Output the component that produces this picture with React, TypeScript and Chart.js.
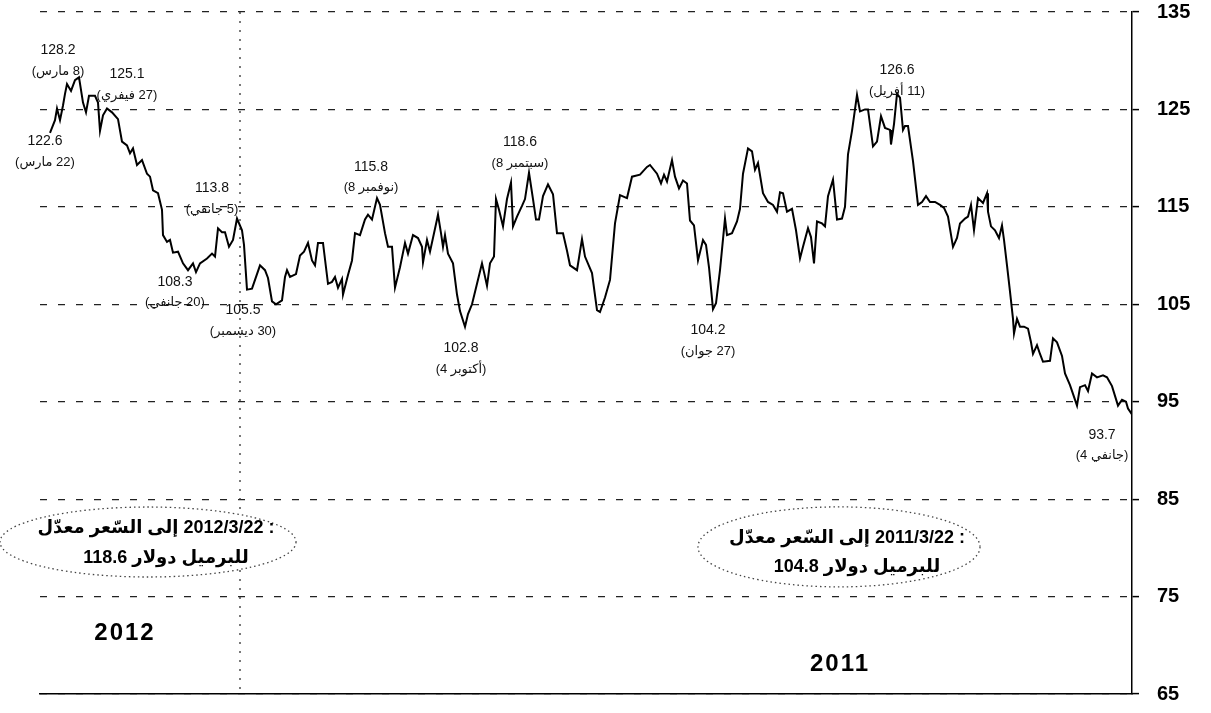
import React, { useEffect, useRef } from 'react';
import { Chart, registerables } from 'chart.js';

Chart.register(...registerables);

// Days counted back from 22/3/2012 (left edge) towards 4/1/2011 (right edge)
const dayIndex = [
  0, 2, 2.8, 4, 5.2, 6, 6.8, 8.4, 10, 11.6,
  13.2, 14.4, 15.6, 18, 19.2, 20, 21.2, 22.8, 24.8, 27.2,
  28.8, 30.8, 32, 33.2, 34.8, 36.8, 38.8, 40, 41.2, 43.2,
  44.8, 45.2, 46.8, 48, 49.2, 51.2, 53.2, 55.2, 57.2, 58.4,
  60, 62.8, 64.8, 66, 67.2, 68.8, 70, 71.6, 73.2, 74.8,
  76.8, 77.6, 78.8, 80.8, 84, 86, 87.2, 88.8, 90.4, 92.8,
  94, 94.8, 96, 98.4, 100, 101.6, 103.2, 104.8, 106, 107.2,
  109.2, 111.2, 112.8, 114, 115.2, 116.8, 117.2, 119.2, 120.8, 122,
  124, 126, 127.2, 128.8, 130.8, 132, 134, 135.2, 136.8, 138,
  140, 142, 143.2, 145.2, 147.2, 148.8, 149.2, 150.8, 152, 154.8,
  155.2, 156.4, 157.2, 158, 159.2, 161.2, 162.8, 164, 166, 167.2,
  168.8, 170.8, 172.8, 173.6, 174.8, 176, 177.6, 178.4, 179.6, 181.2,
  182.8, 184.4, 185.2, 186.8, 188.8, 190, 191.6, 193.2, 194.4, 195.6,
  197.2, 199.2, 201.2, 202.8, 205.2, 206.8, 208, 210.8, 212.8, 214,
  216.8, 218.8, 220, 222, 224, 226, 228, 230.8, 232.8, 236,
  238.8, 240, 242.8, 244.4, 245.6, 246.8, 248.8, 250, 251.6, 253.2,
  254.8, 256, 257.6, 259.2, 261.2, 262.4, 263.6, 265.2, 266.4, 268,
  270, 270.8, 272.8, 274.8, 276, 277.2, 279.2, 280.8, 282, 283.2,
  285.2, 287.2, 289.2, 290.8, 292, 293.2, 294.8, 296.8, 298.4, 300,
  301.2, 303.2, 304.4, 305.6, 306.8, 308.8, 310, 311.2, 313.2, 314.8,
  316.8, 318, 319.2, 320.8, 322.8, 324, 326, 327.2, 329.2, 330.8,
  332.4, 334, 336, 336.4, 337.6, 338.8, 340, 341.2, 342, 343.2,
  345.2, 347.2, 348.8, 350.4, 352, 354, 356, 357.6, 359.2, 361.2,
  362.8, 364, 366, 367.2, 368.4, 369.6, 371.2, 373.2, 374.8, 375.2,
  376.4, 378, 379.6, 380.8, 381.6, 382.8, 384, 385.2, 385.6, 386.8,
  388, 389.6, 391.2, 392.4, 393.2, 394.8, 396, 397.2, 400, 401.2,
  402.8, 404.8, 406, 408, 409.2, 410.8, 412, 414, 415.2, 416.8,
  418.8, 421.2, 422.8, 424.8, 427.2, 428.8, 430.4, 431.2, 432.8,
];

// Price (dollars per barrel)
const price = [
  122.6, 123.9, 125.1, 123.9, 125.4, 126.6, 127.6, 126.9, 128.0, 128.3,
  125.7, 124.7, 126.4, 126.4, 125.7, 122.8, 124.4, 125.1, 124.7, 124.0,
  121.7, 121.3, 120.5, 121.0, 119.3, 119.8, 118.4, 118.1, 116.7, 116.4,
  114.7, 112.1, 111.4, 111.6, 110.3, 110.4, 109.2, 108.5, 109.2, 108.3,
  109.2, 109.7, 110.2, 109.9, 112.8, 112.4, 112.4, 110.9, 111.6, 113.8,
  112.6, 111.1, 106.5, 106.6, 109.0, 108.5, 107.7, 105.3, 105.0, 105.4,
  107.8, 108.5, 107.8, 108.1, 110.0, 110.4, 111.3, 109.5, 109.0, 111.3,
  111.3, 107.1, 107.3, 107.8, 106.7, 107.6, 106.0, 108.0, 109.5, 112.3,
  112.1, 113.7, 114.2, 113.7, 115.9, 115.2, 112.3, 110.9, 110.9, 106.7,
  108.8, 111.3, 110.2, 112.1, 111.8, 110.9, 109.3, 111.6, 110.4, 113.7,
  114.2, 112.3, 110.9, 112.1, 110.2, 109.2, 106.0, 104.3, 102.7, 104.0,
  105.0, 107.1, 109.2, 108.3, 106.9, 109.2, 109.9, 115.8, 114.7, 113.0,
  115.8, 117.5, 113.0, 114.0, 115.1, 115.8, 118.5, 115.8, 113.7, 113.7,
  116.1, 117.3, 116.3, 112.3, 112.3, 110.5, 109.0, 108.5, 111.7, 109.9,
  108.2, 104.4, 104.2, 105.7, 107.5, 113.3, 116.2, 115.9, 118.1, 118.3,
  119.1, 119.3, 118.4, 117.4, 118.3, 117.6, 119.8, 118.1, 116.9, 117.7,
  117.4, 113.6, 113.1, 109.5, 111.6, 111.1, 108.8, 104.5, 105.1, 108.5,
  113.8, 112.1, 112.3, 113.5, 114.8, 118.4, 121.0, 120.7, 118.8, 119.5,
  116.4, 115.5, 115.2, 114.5, 116.5, 116.4, 114.5, 114.8, 112.6, 109.7,
  110.9, 112.8, 111.9, 109.2, 113.5, 113.3, 113.0, 116.1, 117.8, 113.7,
  113.8, 115.0, 120.4, 122.8, 126.5, 124.8, 125.0, 125.0, 121.2, 121.7,
  124.3, 123.1, 122.9, 121.4, 123.5, 126.6, 126.2, 122.9, 123.3, 123.3,
  119.7, 115.2, 115.5, 116.1, 115.5, 115.5, 115.2, 114.9, 114.0, 110.9,
  111.8, 113.3, 113.8, 114.0, 115.2, 112.6, 115.9, 115.4, 116.4, 114.5,
  113.0, 112.6, 111.8, 113.1, 111.6, 109.0, 106.3, 103.5, 102.0, 103.5,
  102.7, 102.7, 102.5, 101.1, 99.9, 100.8, 99.9, 99.1, 99.2, 101.5,
  101.1, 99.7, 97.9, 96.7, 95.8, 94.6, 96.5, 96.7, 96.1, 97.9,
  97.5, 97.7, 97.5, 96.6, 94.6, 95.2, 95.0, 94.3, 93.7,
];

const yMin = 65;
const yMax = 135;
const yStep = 10;
const xMin = -4;
const xMax = 432.8;
const yearBoundaryDay = 76;

// Point labels (value + date)
const labelNumbers = ['128.2', '125.1', '122.6', '113.8', '108.3', '105.5', '115.8', '118.6', '102.8', '104.2', '126.6', '93.7'];
const labelDates = ['(8 مارس)', '(27 فيفري)', '(22 مارس)', '(5 جانفي)', '(20 جانفي)', '(30 ديسمبر)', '(8 نوفمبر)', '(8 سبتمبر)', '(4 أكتوبر)', '(27 جوان)', '(11 أفريل)', '(4 جانفي)'];
const labelDirections = ['rtl', 'rtl', 'rtl', 'rtl', 'rtl', 'rtl', 'ltr', 'ltr', 'ltr', 'rtl', 'rtl', 'ltr'];
const labelDays = [3.2, 30.8, -2, 64.8, 50, 77.2, 128.4, 188, 164.4, 263.2, 338.8, 420.8];
const labelValues = [131.1, 128.6, 121.7, 116.9, 107.3, 104.4, 119.1, 121.6, 100.5, 102.3, 129.0, 91.6];

// Year captions
const yearLabels = ['2012', '2011'];
const yearDays = [30, 316];
const yearValues = [71.2, 68.0];

// Average-price boxes
const boxLine1 = ['معدّل السّعر إلى 2012/3/22 :', 'معدّل السّعر إلى 2011/3/22 :'];
const boxLine2 = ['118.6 دولار للبرميل', '104.8 دولار للبرميل'];
const boxDays = [39.2, 315.6];
const boxValues = [80.6, 80.1];

const FONT = "'Liberation Sans', Arial, 'DejaVu Sans', sans-serif";

// words laid out left-to-right in the same order as in the source picture
const lrmJoin = (s: string) => s.split(' ').join('\u200E \u200E');

const overlayPlugin = {
  id: 'overlay',
  beforeDatasetsDraw(chart: any) {
    const { ctx, chartArea, scales } = chart;
    const x = scales.x;
    const y = scales.y;
    ctx.save();
    // dotted divider between years
    const xd = x.getPixelForValue(yearBoundaryDay);
    ctx.strokeStyle = '#333';
    ctx.lineWidth = 1.3;
    ctx.setLineDash([2, 7]);
    ctx.beginPath();
    ctx.moveTo(xd, chartArea.top);
    ctx.lineTo(xd, chartArea.bottom);
    ctx.stroke();

    // dotted ellipses
    const radii = [[148, 35], [141, 40]];
    ctx.setLineDash([1.5, 3]);
    ctx.lineWidth = 1.3;
    ctx.strokeStyle = '#444';
    for (let i = 0; i < boxDays.length; i++) {
      const cx = x.getPixelForValue(boxDays[i]);
      const cy = y.getPixelForValue(boxValues[i]);
      ctx.fillStyle = '#fff';
      ctx.beginPath();
      ctx.ellipse(cx, cy, radii[i][0], radii[i][1], 0, 0, Math.PI * 2);
      ctx.fill();
      ctx.stroke();
    }
    ctx.restore();
  },
  afterDatasetsDraw(chart: any) {
    const { ctx, scales } = chart;
    const x = scales.x;
    const y = scales.y;
    ctx.save();
    ctx.fillStyle = '#111';
    ctx.textAlign = 'center';
    ctx.textBaseline = 'middle';
    // point labels
    for (let i = 0; i < labelNumbers.length; i++) {
      const px = x.getPixelForValue(labelDays[i]);
      const py = y.getPixelForValue(labelValues[i]);
      ctx.direction = 'ltr';
      ctx.font = `14px ${FONT}`;
      ctx.fillText(labelNumbers[i], px, py);
      ctx.direction = labelDirections[i];
      ctx.font = `13px ${FONT}`;
      ctx.fillText(labelDates[i], px, py + 21);
    }
    // boxes text
    const lineOffsets = [[-14, 16], [-9, 20]];
    ctx.direction = 'ltr';
    ctx.fillStyle = '#000';
    for (let i = 0; i < boxDays.length; i++) {
      const cx = x.getPixelForValue(boxDays[i]) + 8;
      const cy = y.getPixelForValue(boxValues[i]);
      ctx.font = `bold 18px ${FONT}`;
      ctx.fillText(lrmJoin(boxLine1[i]), cx, cy + lineOffsets[i][0]);
      ctx.fillText(lrmJoin(boxLine2[i]), cx + 10, cy + lineOffsets[i][1]);
    }
    // year captions
    ctx.font = `bold 24px ${FONT}`;
    (ctx as any).letterSpacing = '2px';
    for (let i = 0; i < yearLabels.length; i++) {
      ctx.fillText(yearLabels[i], x.getPixelForValue(yearDays[i]), y.getPixelForValue(yearValues[i]));
    }
    ctx.restore();
  },
};

export default function App() {
  const canvasRef = useRef<HTMLCanvasElement>(null);

  useEffect(() => {
    document.body.style.margin = '0';
    const canvas = canvasRef.current;
    if (!canvas) return;
    const chart = new Chart(canvas, {
      type: 'line',
      data: {
        datasets: [
          {
            data: dayIndex.map((d, i) => ({ x: d, y: price[i] })),
            borderColor: '#000',
            borderWidth: 2,
            pointRadius: 0,
            tension: 0,
            fill: false,
          },
        ],
      },
      options: {
        animation: false,
        responsive: false,
        devicePixelRatio: 1,
        layout: { padding: { left: 40, top: 12, right: 0, bottom: 19 } },
        plugins: { legend: { display: false }, tooltip: { enabled: false } },
        scales: {
          x: {
            type: 'linear',
            min: xMin,
            max: xMax,
            ticks: { display: false },
            grid: { display: false, drawTicks: false },
            border: { display: true, color: '#000', width: 1.5 },
            afterFit: (s: any) => {
              s.height = 0;
              s.paddingLeft = 0;
              s.paddingRight = 0;
            },
          },
          y: {
            position: 'right',
            min: yMin,
            max: yMax,
            ticks: {
              stepSize: yStep,
              color: '#000',
              padding: 18,
              font: { family: FONT, size: 20, weight: 'bold' },
            },
            grid: {
              color: '#222',
              lineWidth: 1.2,
              drawTicks: true,
              tickLength: 7,
              tickColor: '#000',
              tickWidth: 1.5,
              tickBorderDash: [],
            },
            border: { display: true, color: '#000', width: 1.5, dash: [7, 11] },
            afterFit: (s: any) => {
              s.width = 79;
              s.paddingTop = 0;
              s.paddingBottom = 0;
            },
          },
        },
      },
      plugins: [overlayPlugin],
    } as any);
    return () => chart.destroy();
  }, []);

  return (
    <div style={{ width: 1211, height: 713, background: '#fff' }}>
      <canvas ref={canvasRef} width={1211} height={713} style={{ display: 'block' }} />
    </div>
  );
}
